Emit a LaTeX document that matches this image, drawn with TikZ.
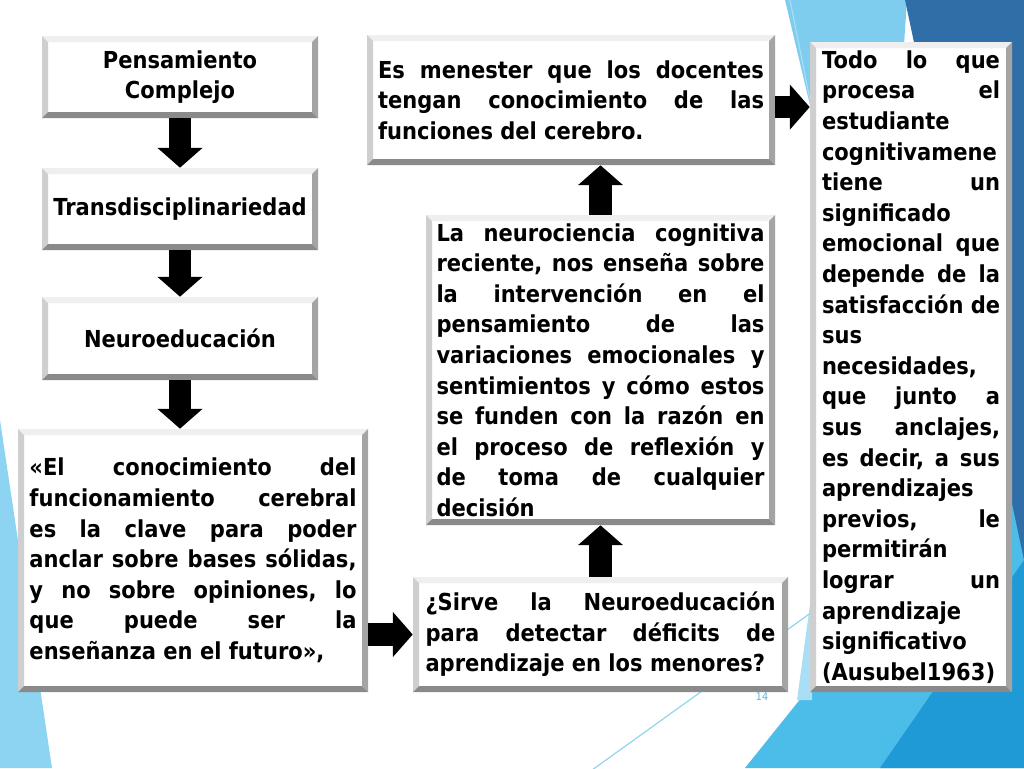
\documentclass[tikz,border=0pt]{standalone}
\usepackage{fontspec}
\setmainfont{DejaVu Sans}[FakeStretch=0.9]
\usetikzlibrary{arrows.meta,calc}
\newdimen\pxlen \pxlen=0.7058pt
\newdimen\linew
\newcommand\JLine[1]{\hbox to \linew{\spaceskip=\fontdimen2\font plus 1fil\relax #1}}
\newcommand\LLine[1]{\hbox to \linew{#1\hfil}}
\newcommand\TBlock[2]{\vbox{\linew=#1\pxlen\relax\frenchspacing\fontsize{16.5}{21.6}\selectfont\bfseries #2}}
\definecolor{bvT}{HTML}{EFEFEF}
\definecolor{bvL}{HTML}{CFCFCF}
\definecolor{bvR}{HTML}{A4A4A4}
\definecolor{bvB}{HTML}{8A8A8A}
\definecolor{bgLeft}{HTML}{8DD4F2}
\definecolor{bgTopLight}{HTML}{7FCDEE}
\definecolor{bgDark}{HTML}{2F6EA6}
\definecolor{bgMid}{HTML}{4BBDE8}
\definecolor{bgDeep}{HTML}{1F9AD6}
\definecolor{bgPale}{HTML}{A9DEF5}
\definecolor{bgLine}{HTML}{8DD3F0}
\definecolor{pgnum}{HTML}{5AB4DE}
\tikzset{
  bev/.style={fill=white, inner sep=0pt, path picture={
    \coordinate (q1) at (path picture bounding box.north west);
    \coordinate (q2) at (path picture bounding box.north east);
    \coordinate (q3) at (path picture bounding box.south east);
    \coordinate (q4) at (path picture bounding box.south west);
    \fill[bvT] (q1) -- (q2) -- ([shift={(-6,6)}]q2) -- ([shift={(6,6)}]q1) -- cycle;
    \fill[bvL] (q1) -- ([shift={(6,6)}]q1) -- ([shift={(6,-6)}]q4) -- (q4) -- cycle;
    \fill[bvR] (q2) -- (q3) -- ([shift={(-6,-6)}]q3) -- ([shift={(-6,6)}]q2) -- cycle;
    \fill[bvB] (q4) -- (q3) -- ([shift={(-6,-6)}]q3) -- ([shift={(6,-6)}]q4) -- cycle;
  }},
  short/.style={align=center, font=\fontsize{16.5}{21.6}\selectfont\bfseries},
  blk/.style={draw=black, line width=16pt, line cap=butt, -{Triangle[length=14pt,width=31pt]}}
}
\begin{document}
\begin{tikzpicture}[x=0.7058pt,y=-0.7058pt]
\useasboundingbox (0,0) rectangle (1024,768);
\fill[white] (0,0) rectangle (1024,768);
% background decoration
\fill[bgLeft] (0,420) -- (52,768) -- (0,768) -- cycle;
\fill[bgMid] (745,768) -- (1024,420) -- (1024,768) -- cycle;
\fill[bgPale] (797,700) -- (812,590) -- (812,700) -- cycle;
\fill[bgTopLight] (785,0) -- (907,0) -- (880,400) -- cycle;
\fill[bgDark] (905,0) -- (1024,0) -- (1024,560) -- cycle;
\fill[bgDeep] (880,768) -- (1024,560) -- (1024,768) -- cycle;
\draw[bgLine, line width=0.8pt] (560,793) -- (812,612);
\draw[bgPale, line width=0.8pt] (790,0) -- (815,125);

% boxes
\node[bev, short, minimum width=276*\pxlen, minimum height=82*\pxlen] (A) at (180,77) {Pensamiento\\Complejo};
\node[bev, short, minimum width=276*\pxlen, minimum height=82*\pxlen] (B) at (180,209) {Transdisciplinariedad};
\node[bev, short, minimum width=276*\pxlen, minimum height=83*\pxlen] (C) at (180,338.5) {Neuroeducación};
\node[bev, minimum width=350*\pxlen, minimum height=263*\pxlen] (D) at (193,560.5) {\TBlock{327}{%
\JLine{«El conocimiento del}
\JLine{funcionamiento cerebral}
\JLine{es la clave para poder}
\JLine{anclar sobre bases sólidas,}
\JLine{y no sobre opiniones, lo}
\JLine{que puede ser la}
\LLine{enseñanza en el futuro»,}}};
\node[bev, minimum width=375*\pxlen, minimum height=115*\pxlen] (E) at (600.5,634.5) {\TBlock{350}{%
\JLine{¿Sirve la Neuroeducación}
\JLine{para detectar déficits de}
\LLine{aprendizaje en los menores?}}};
\node[bev, minimum width=349*\pxlen, minimum height=310*\pxlen] (F) at (600.5,370) {\TBlock{328}{%
\JLine{La neurociencia cognitiva}
\JLine{reciente, nos enseña sobre}
\JLine{la intervención en el}
\JLine{pensamiento de las}
\JLine{variaciones emocionales y}
\JLine{sentimientos y cómo estos}
\JLine{se funden con la razón en}
\JLine{el proceso de reflexión y}
\JLine{de toma de cualquier}
\LLine{decisión}}};
\node[bev, minimum width=408*\pxlen, minimum height=130*\pxlen] (G) at (571,100) {\TBlock{386}{%
\JLine{Es menester que los docentes}
\JLine{tengan conocimiento de las}
\LLine{funciones del cerebro.}}};
\node[bev, minimum width=202*\pxlen, minimum height=650*\pxlen] (H) at (911,367) {\TBlock{178}{%
\JLine{Todo lo que}
\JLine{procesa el}
\LLine{estudiante}
\LLine{cognitivamene}
\JLine{tiene un}
\LLine{significado}
\JLine{emocional que}
\JLine{depende de la}
\JLine{satisfacción de}
\LLine{sus}
\LLine{necesidades,}
\JLine{que junto a}
\JLine{sus anclajes,}
\JLine{es decir, a sus}
\LLine{aprendizajes}
\JLine{previos, le}
\LLine{permitirán}
\JLine{lograr un}
\LLine{aprendizaje}
\LLine{significativo}
\LLine{(Ausubel1963)}}};
\node[text=pgnum, font=\fontsize{7.5}{9}\selectfont, inner sep=0pt] (pn) at (762,697) {14};

% arrows
\coordinate (gE) at ([yshift=-5pt]G.east);
\draw[blk] (A.south) -- (B.north);
\draw[blk] (B.south) -- (C.north);
\draw[blk] (C.south) -- (C.south |- D.north);
\draw[blk] (D.east |- E.west) -- (E.west);
\draw[blk] (E.north) -- (E.north |- F.south);
\draw[blk] (F.north) -- (F.north |- G.south);
\draw[blk] (gE) -- (gE -| H.west);
\end{tikzpicture}
\end{document}
